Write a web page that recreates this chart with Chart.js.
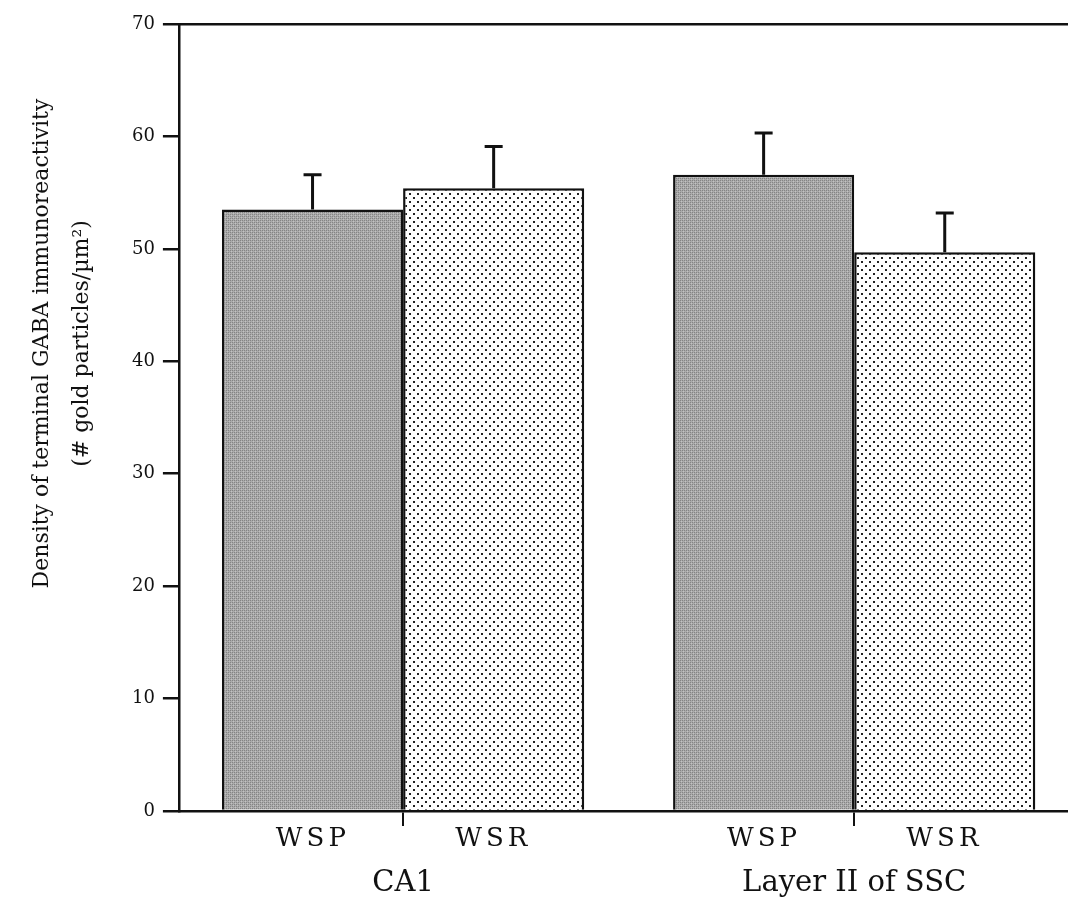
<!DOCTYPE html>
<html>
<head>
<meta charset="utf-8">
<script src="https://cdn.jsdelivr.net/npm/chart.js@4"></script>
<style>
  html, body { margin: 0; padding: 0; background: #fff; }
  #wrap { width: 1068px; height: 903px; }
</style>
</head>
<body>
<div id="wrap"><canvas id="c" width="1068" height="903"></canvas></div>
<script>
// ---- data ----
const groups = ['CA1', 'Layer II of SSC'];
const seriesNames = ['WSP', 'WSR'];
const wspValues = [53.5, 56.6];
const wspErrors = [3.1, 3.7];
const wsrValues = [55.4, 49.7];
const wsrErrors = [3.7, 3.5];
const yTicks = [0, 10, 20, 30, 40, 50, 60, 70];
const yTitle = ['Density of terminal GABA immunoreactivity', '(# gold particles/\u00B5m\u00B2)'];

// group positions on the linear index axis
const groupPos = groups.map((g, i) => i + 1);
const subOffset = 0.2;

// ---- patterns ----
function grayPattern() {
  const c = document.createElement('canvas');
  c.width = 4; c.height = 4;
  const g = c.getContext('2d');
  g.fillStyle = '#aaaaaa'; g.fillRect(0, 0, 4, 4);
  g.fillStyle = '#848484';
  g.fillRect(0, 0, 1, 1); g.fillRect(2, 2, 1, 1);
  g.fillRect(2, 0, 1, 1); g.fillRect(0, 2, 1, 1);
  g.fillStyle = '#c2c2c2';
  g.fillRect(1, 1, 1, 1); g.fillRect(3, 3, 1, 1);
  return g.createPattern(c, 'repeat');
}
function dotPattern() {
  const c = document.createElement('canvas');
  c.width = 8; c.height = 8;
  const g = c.getContext('2d');
  g.fillStyle = '#ffffff'; g.fillRect(0, 0, 8, 8);
  g.fillStyle = '#222222';
  g.fillRect(1, 1, 2, 2); g.fillRect(5, 5, 2, 2);
  return g.createPattern(c, 'repeat');
}

const FONT = "'DejaVu Serif', 'Liberation Serif', serif";

const errorBars = {
  id: 'errorBars',
  afterDatasetsDraw(chart) {
    const ctx = chart.ctx;
    const y = chart.scales.y;
    const errs = [wspErrors, wsrErrors];
    chart.data.datasets.forEach((ds, di) => {
      const meta = chart.getDatasetMeta(di);
      meta.data.forEach((bar, i) => {
        const v = ds.data[i].y;
        const top = y.getPixelForValue(v + errs[di][i]);
        const base = y.getPixelForValue(v);
        ctx.save();
        ctx.strokeStyle = '#111';
        ctx.lineWidth = 3;
        ctx.beginPath();
        ctx.moveTo(bar.x, base);
        ctx.lineTo(bar.x, top);
        ctx.moveTo(bar.x - 9, top);
        ctx.lineTo(bar.x + 9, top);
        ctx.stroke();
        ctx.restore();
      });
    });
  }
};

// y-axis title, placed a little above the axis centre as in the original
const yAxisTitle = {
  id: 'yAxisTitle',
  afterDraw(chart) {
    const ctx = chart.ctx;
    const a = chart.chartArea;
    const cy = a.top + (a.bottom - a.top) * 0.406;
    ctx.save();
    ctx.fillStyle = '#111';
    ctx.font = "22px " + FONT;
    ctx.textAlign = 'center';
    ctx.textBaseline = 'middle';
    const xs = [42, 82];
    yTitle.forEach((line, i) => {
      ctx.save();
      ctx.translate(xs[i], cy);
      ctx.rotate(-Math.PI / 2);
      ctx.fillText(line, 0, 0);
      ctx.restore();
    });
    ctx.restore();
  }
};

const subTicks = [];
groupPos.forEach(p => {
  subTicks.push({ value: p - subOffset, label: seriesNames[0] });
  subTicks.push({ value: p, label: '' });
  subTicks.push({ value: p + subOffset, label: seriesNames[1] });
});

const xMin = 0.503, xMax = 2.474;

const chart = new Chart(document.getElementById('c'), {
  type: 'bar',
  data: {
    datasets: [
      {
        label: seriesNames[0],
        data: groupPos.map((p, i) => ({ x: p, y: wspValues[i] })),
        backgroundColor: grayPattern(),
        borderColor: '#111',
        borderWidth: 2.5,
        xAxisID: 'xb'
      },
      {
        label: seriesNames[1],
        data: groupPos.map((p, i) => ({ x: p, y: wsrValues[i] })),
        backgroundColor: dotPattern(),
        borderColor: '#111',
        borderWidth: 2.5,
        xAxisID: 'xb'
      }
    ]
  },
  options: {
    responsive: false,
    animation: false,
    events: [],
    categoryPercentage: 0.803,
    barPercentage: 1.0,
    layout: { padding: { top: 24, right: 0, bottom: -11, left: 124 } },
    plugins: { legend: { display: false }, tooltip: { enabled: false } },
    scales: {
      xb: {
        type: 'linear', position: 'bottom', weight: 2, offset: false,
        min: xMin, max: xMax,
        afterBuildTicks(scale) { scale.ticks = groupPos.map(v => ({ value: v })); },
        ticks: {
          callback: (v) => groups[groupPos.indexOf(v)] || '',
          font: { family: FONT, size: 29, lineHeight: 1.0 }, color: '#111', padding: 16.5, maxRotation: 0, autoSkip: false
        },
        grid: { display: false, drawTicks: false, offset: false },
        border: { display: false }
      },
      xl: {
        type: 'linear', position: 'bottom', weight: 1, offset: false,
        min: xMin, max: xMax,
        afterBuildTicks(scale) { scale.ticks = subTicks.map(t => ({ value: t.value })); },
        ticks: {
          callback: (v) => { const t = subTicks.find(s => Math.abs(s.value - v) < 1e-6); return t ? t.label : ''; },
          font: { family: FONT, size: 26, lineHeight: 1.0 }, color: '#111', padding: 0, maxRotation: 0, autoSkip: false
        },
        grid: {
          drawOnChartArea: false, tickLength: 15, lineWidth: 2, offset: false,
          color: (c) => (c.tick && Number.isInteger(c.tick.value)) ? '#111' : 'rgba(0,0,0,0)'
        },
        border: { display: true, color: '#111', width: 2.5 }
      },
      xt: {
        type: 'linear', position: 'top', offset: false,
        min: xMin, max: xMax,
        ticks: { display: false },
        grid: { display: false, drawTicks: false },
        border: { display: true, color: '#111', width: 2.5 }
      },
      y: {
        type: 'linear', position: 'left',
        min: 0, max: 70,
        afterBuildTicks(scale) { scale.ticks = yTicks.map(v => ({ value: v })); },
        ticks: { font: { family: FONT, size: 18 }, color: '#111', padding: 8 },
        grid: { drawOnChartArea: false, tickLength: 16, lineWidth: 2.5, color: '#111' },
        border: { display: true, color: '#111', width: 2.5 }
      }
    }
  },
  plugins: [errorBars, yAxisTitle]
});

// letter-spaced category labels, as in the original typesetting
const xl = chart.scales.xl;
const origDrawLabels = xl.drawLabels.bind(xl);
xl.drawLabels = function (area) {
  const ctx = chart.ctx;
  ctx.save();
  ctx.letterSpacing = '4px';
  origDrawLabels(area);
  ctx.restore();
};
chart.draw();
</script>
</body>
</html>
